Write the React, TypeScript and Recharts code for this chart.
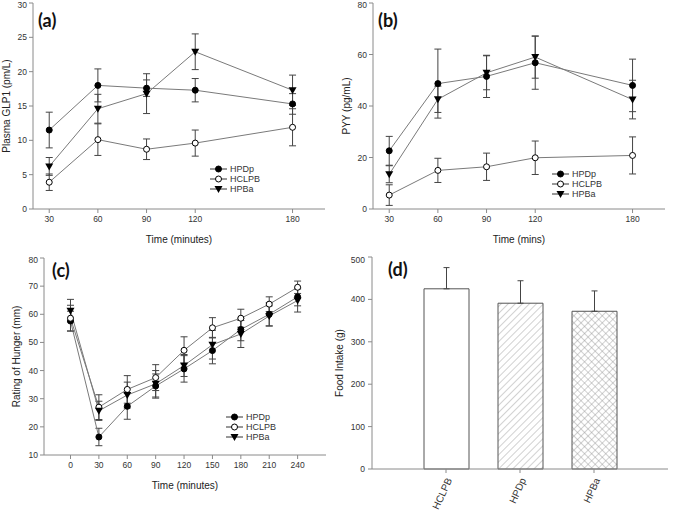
import React from 'react';
import {
  LineChart,
  Line,
  BarChart,
  Bar,
  Cell,
  XAxis,
  YAxis,
  ErrorBar,
  Legend,
} from 'recharts';

// Plasma GLP1 (pm/L)
const glpTimes = [30, 60, 90, 120, 180];
const glpHPDp = [11.5, 18.0, 17.6, 17.3, 15.3];
const glpHPDpErr = [2.6, 2.4, 1.2, 1.7, 1.5];
const glpHCLPB = [3.9, 10.1, 8.7, 9.6, 11.9];
const glpHCLPBErr = [1.2, 2.3, 1.5, 1.9, 2.7];
const glpHPBa = [6.2, 14.6, 16.8, 22.9, 17.3];
const glpHPBaErr = [1.3, 2.1, 2.9, 2.6, 2.2];

// PYY (pg/mL)
const pyyTimes = [30, 60, 90, 120, 180];
const pyyHPDp = [22.6, 48.7, 51.5, 56.8, 48.0];
const pyyHPDpErr = [5.6, 13.4, 8.2, 10.3, 10.2];
const pyyHCLPB = [5.4, 15.0, 16.4, 19.9, 20.8];
const pyyHCLPBErr = [4.0, 4.7, 5.3, 6.5, 7.2];
const pyyHPBa = [13.5, 42.6, 52.9, 59.0, 42.5];
const pyyHPBaErr = [3.3, 5.1, 6.6, 8.2, 7.5];

// Rating of hunger (mm)
const hungerTimes = [0, 30, 60, 90, 120, 150, 180, 210, 240];
const hungerHPDp = [57.6, 16.4, 27.3, 34.5, 40.6, 47.1, 54.6, 60.0, 66.2];
const hungerHPDpErr = [3.5, 3.1, 4.6, 4.3, 4.7, 4.7, 4.0, 4.1, 3.2];
const hungerHCLPB = [58.6, 27.0, 33.3, 37.5, 47.2, 55.2, 58.6, 63.6, 69.6];
const hungerHCLPBErr = [4.6, 4.4, 4.9, 4.6, 4.8, 3.6, 3.2, 2.6, 2.2];
const hungerHPBa = [61.3, 25.7, 31.3, 35.3, 41.8, 49.2, 53.0, 59.4, 64.9];
const hungerHPBaErr = [4.0, 3.4, 4.6, 4.7, 3.9, 5.1, 4.8, 3.6, 4.1];

// Food intake (g)
const intakeGroups = ['HCLPB', 'HPDp', 'HPBa'];
const intakeMeans = [425, 391, 372];
const intakeSE = [50, 53, 48];
const intakeFills = ['#fff', 'url(#hatchDiag)', 'url(#hatchCross)'];

const seriesOrder = ['HPDp', 'HCLPB', 'HPBa'];

const glpTicks = [0, 5, 10, 15, 20, 25, 30];
const pyyTicks = [0, 20, 40, 60, 80];
const hungerTicks = [10, 20, 30, 40, 50, 60, 70, 80];
const intakeTicks = [0, 100, 200, 300, 400, 500];

const AXIS = '#8a8a8a';
const LINE = '#7a7a7a';
const ERR = '#444';
const TXT = '#333';

type Series = { hpdp: number[]; hpdpErr: number[]; hclpb: number[]; hclpbErr: number[]; hpba: number[]; hpbaErr: number[] };

const buildRows = (times: number[], s: Series) =>
  times.map((t, i) => ({
    t,
    HPDp: s.hpdp[i],
    hpdpErr: s.hpdpErr[i],
    HCLPB: s.hclpb[i],
    hclpbErr: s.hclpbErr[i],
    HPBa: s.hpba[i],
    hpbaErr: s.hpbaErr[i],
  }));

const glpRows = buildRows(glpTimes, {
  hpdp: glpHPDp, hpdpErr: glpHPDpErr, hclpb: glpHCLPB, hclpbErr: glpHCLPBErr, hpba: glpHPBa, hpbaErr: glpHPBaErr,
});
const pyyRows = buildRows(pyyTimes, {
  hpdp: pyyHPDp, hpdpErr: pyyHPDpErr, hclpb: pyyHCLPB, hclpbErr: pyyHCLPBErr, hpba: pyyHPBa, hpbaErr: pyyHPBaErr,
});
const hungerRows = buildRows(hungerTimes, {
  hpdp: hungerHPDp, hpdpErr: hungerHPDpErr, hclpb: hungerHCLPB, hclpbErr: hungerHCLPBErr, hpba: hungerHPBa, hpbaErr: hungerHPBaErr,
});
const intakeRows = intakeGroups.map((name, i) => ({ name, mean: intakeMeans[i], se: [0, intakeSE[i]] }));

function markerFor(name: string, cx: number, cy: number) {
  if (name === 'HPBa') {
    return <path d={`M${cx - 4},${cy - 3} L${cx + 4},${cy - 3} L${cx},${cy + 4} Z`} fill="#000" />;
  }
  if (name === 'HCLPB') {
    return <circle cx={cx} cy={cy} r={3} fill="#fff" stroke="#000" strokeWidth={1} />;
  }
  return <circle cx={cx} cy={cy} r={3} fill="#000" stroke="#000" />;
}

const TriangleDot = (props: any) => {
  const { cx, cy, index } = props;
  if (cx == null || cy == null) return null;
  return <g key={`tri-${index}`}>{markerFor('HPBa', cx, cy)}</g>;
};

// keep the legend in drawing order (Recharts sorts it by name otherwise)
const legendContent = ({ payload }: any) => {
  const items = [...(payload || [])].sort(
    (a: any, b: any) => seriesOrder.indexOf(a.value) - seriesOrder.indexOf(b.value),
  );
  return (
    <div style={{ fontSize: 9, color: TXT, lineHeight: '10px' }}>
      {items.map((p: any) => (
        <div key={p.value} style={{ display: 'flex', alignItems: 'center', height: 10 }}>
          <svg width={17} height={10}>
            <line x1={0} y1={5} x2={17} y2={5} stroke="#333" />
            {markerFor(p.value, 8.5, 5)}
          </svg>
          <span style={{ marginLeft: 3 }}>{p.value}</span>
        </div>
      ))}
    </div>
  );
};

const tickStyle = { fontSize: 8.5, fill: TXT };

function TimeChart(props: {
  rows: any[];
  width: number;
  height: number;
  margin: any;
  yWidth: number;
  xDomain: [number, number];
  xTicks: number[];
  yDomain: [number, number];
  yTicks: number[];
  xLabel: string;
  yLabel: string;
  yLabelOffset: number;
  legendPos: { left: number; top: number };
}) {
  const p = props;
  return (
    <LineChart width={p.width} height={p.height} data={p.rows} margin={p.margin}>
      <XAxis
        dataKey="t"
        type="number"
        domain={p.xDomain}
        ticks={p.xTicks}
        stroke={AXIS}
        tickSize={4}
        tickMargin={3}
        tick={tickStyle}
        height={46}
        label={{ value: p.xLabel, position: 'insideBottom', offset: 12, fontSize: 10, fill: '#222' }}
      />
      <XAxis xAxisId="top" orientation="top" type="number" domain={p.xDomain} tick={false} tickLine={false} height={0} stroke={AXIS} />
      <YAxis
        type="number"
        domain={p.yDomain}
        ticks={p.yTicks}
        stroke={AXIS}
        tickSize={4}
        tickMargin={2}
        tick={tickStyle}
        width={p.yWidth}
        label={{ value: p.yLabel, angle: -90, position: 'insideLeft', offset: p.yLabelOffset, fontSize: 10, fill: '#222', style: { textAnchor: 'middle' } }}
      />
      <YAxis yAxisId="right" orientation="right" type="number" domain={p.yDomain} tick={false} tickLine={false} width={0} stroke={AXIS} />
      <Legend
        layout="vertical"
        align="center"
        verticalAlign="middle"
        content={legendContent}
        wrapperStyle={{ left: p.legendPos.left, top: p.legendPos.top, width: 'auto' }}
      />
      <Line
        dataKey="HPDp"
        name="HPDp"
        stroke={LINE}
        strokeWidth={1}
        dot={{ r: 3, fill: '#000', stroke: '#000', strokeWidth: 1 }}
        isAnimationActive={false}
      >
        <ErrorBar dataKey="hpdpErr" width={3.5} stroke={ERR} strokeWidth={1} direction="y" />
      </Line>
      <Line
        dataKey="HCLPB"
        name="HCLPB"
        stroke={LINE}
        strokeWidth={1}
        dot={{ r: 3, fill: '#fff', stroke: '#000', strokeWidth: 1 }}
        isAnimationActive={false}
      >
        <ErrorBar dataKey="hclpbErr" width={3.5} stroke={ERR} strokeWidth={1} direction="y" />
      </Line>
      <Line
        dataKey="HPBa"
        name="HPBa"
        stroke={LINE}
        strokeWidth={1}
        dot={TriangleDot}
        isAnimationActive={false}
      >
        <ErrorBar dataKey="hpbaErr" width={3.5} stroke={ERR} strokeWidth={1} direction="y" />
      </Line>
    </LineChart>
  );
}

const PanelTag = ({ text, x, y }: { text: string; x: number; y: number }) => (
  <svg width={40} height={30} style={{ position: 'absolute', left: x, top: y - 22, pointerEvents: 'none' }}>
    <text x={0} y={22} fontSize={18} fontWeight={700} fontFamily="Lato, 'Open Sans', sans-serif" fill="#111">
      {text}
    </text>
  </svg>
);

export default function App() {
  return (
    <div
      style={{
        position: 'absolute',
        left: 0,
        top: 0,
        width: 685,
        height: 516,
        background: '#fff',
        fontFamily: "'Liberation Sans', Arial, sans-serif",
      }}
    >
      <svg width={0} height={0} style={{ position: 'absolute' }}>
        <defs>
          <pattern id="hatchDiag" width={5} height={5} patternUnits="userSpaceOnUse" patternTransform="rotate(45)">
            <line x1={0} y1={0} x2={0} y2={5} stroke="#8c8c8c" strokeWidth={0.8} />
          </pattern>
          <pattern id="hatchCross" width={5} height={5} patternUnits="userSpaceOnUse" patternTransform="rotate(45)">
            <line x1={0} y1={0} x2={0} y2={5} stroke="#8c8c8c" strokeWidth={0.8} />
            <line x1={0} y1={0} x2={5} y2={0} stroke="#8c8c8c" strokeWidth={0.8} />
          </pattern>
        </defs>
      </svg>

      {/* (a) GLP1 */}
      <div style={{ position: 'absolute', left: 0, top: 0 }}>
        <TimeChart
          rows={glpRows}
          width={340}
          height={255}
          margin={{ top: 3, right: 15, bottom: 0, left: 0 }}
          yWidth={33}
          xDomain={[20, 200]}
          xTicks={glpTimes}
          yDomain={[0, 30]}
          yTicks={glpTicks}
          xLabel="Time (minutes)"
          yLabel="Plasma GLP1 (pm/L)"
          yLabelOffset={6}
          legendPos={{ left: 210, top: 164 }}
        />
        <PanelTag text="(a)" x={38} y={27} />
      </div>

      {/* (b) PYY */}
      <div style={{ position: 'absolute', left: 340, top: 0 }}>
        <TimeChart
          rows={pyyRows}
          width={345}
          height={255}
          margin={{ top: 3, right: 20, bottom: 0, left: 0 }}
          yWidth={33}
          xDomain={[20, 200]}
          xTicks={pyyTimes}
          yDomain={[0, 80]}
          yTicks={pyyTicks}
          xLabel="Time (mins)"
          yLabel="PYY (pg/mL)"
          yLabelOffset={6}
          legendPos={{ left: 212, top: 169 }}
        />
        <PanelTag text="(b)" x={38} y={27} />
      </div>

      {/* (c) hunger */}
      <div style={{ position: 'absolute', left: 0, top: 255 }}>
        <TimeChart
          rows={hungerRows}
          width={340}
          height={261}
          margin={{ top: 3, right: 14, bottom: 15, left: 0 }}
          yWidth={44}
          xDomain={[-28, 270]}
          xTicks={hungerTimes}
          yDomain={[10, 80]}
          yTicks={hungerTicks}
          xLabel="Time (minutes)"
          yLabel="Rating of Hunger (mm)"
          yLabelOffset={16}
          legendPos={{ left: 226, top: 157 }}
        />
        <PanelTag text="(c)" x={52} y={22} />
      </div>

      {/* (d) food intake */}
      <div style={{ position: 'absolute', left: 330, top: 255 }}>
        <BarChart width={355} height={261} data={intakeRows} margin={{ top: 2, right: 17, bottom: 0, left: 0 }}>
          <XAxis
            dataKey="name"
            padding={{ left: 37, right: 37 }}
            stroke={AXIS}
            tickSize={4}
            tickMargin={4}
            interval={0}
            angle={-65}
            textAnchor="end"
            tick={{ fontSize: 10, fill: TXT }}
            height={47}
          />
          <XAxis xAxisId="top" orientation="top" dataKey="name" tick={false} tickLine={false} height={0} stroke={AXIS} />
          <YAxis
            type="number"
            domain={[0, 500]}
            ticks={intakeTicks}
            stroke={AXIS}
            tickSize={4}
            tickMargin={3}
            tick={tickStyle}
            width={42}
            label={{ value: 'Food Intake (g)', angle: -90, position: 'insideLeft', offset: 9, fontSize: 10, fill: '#222', style: { textAnchor: 'middle' } }}
          />
          <YAxis yAxisId="right" orientation="right" type="number" domain={[0, 500]} tick={false} tickLine={false} width={0} stroke={AXIS} />
          <Bar dataKey="mean" barSize={45} stroke="#555" strokeWidth={1} isAnimationActive={false}>
            {intakeRows.map((r, i) => (
              <Cell key={r.name} fill={intakeFills[i]} />
            ))}
            <ErrorBar dataKey="se" width={3} stroke={ERR} strokeWidth={1} direction="y" />
          </Bar>
        </BarChart>
        <PanelTag text="(d)" x={58} y={21} />
      </div>
    </div>
  );
}
